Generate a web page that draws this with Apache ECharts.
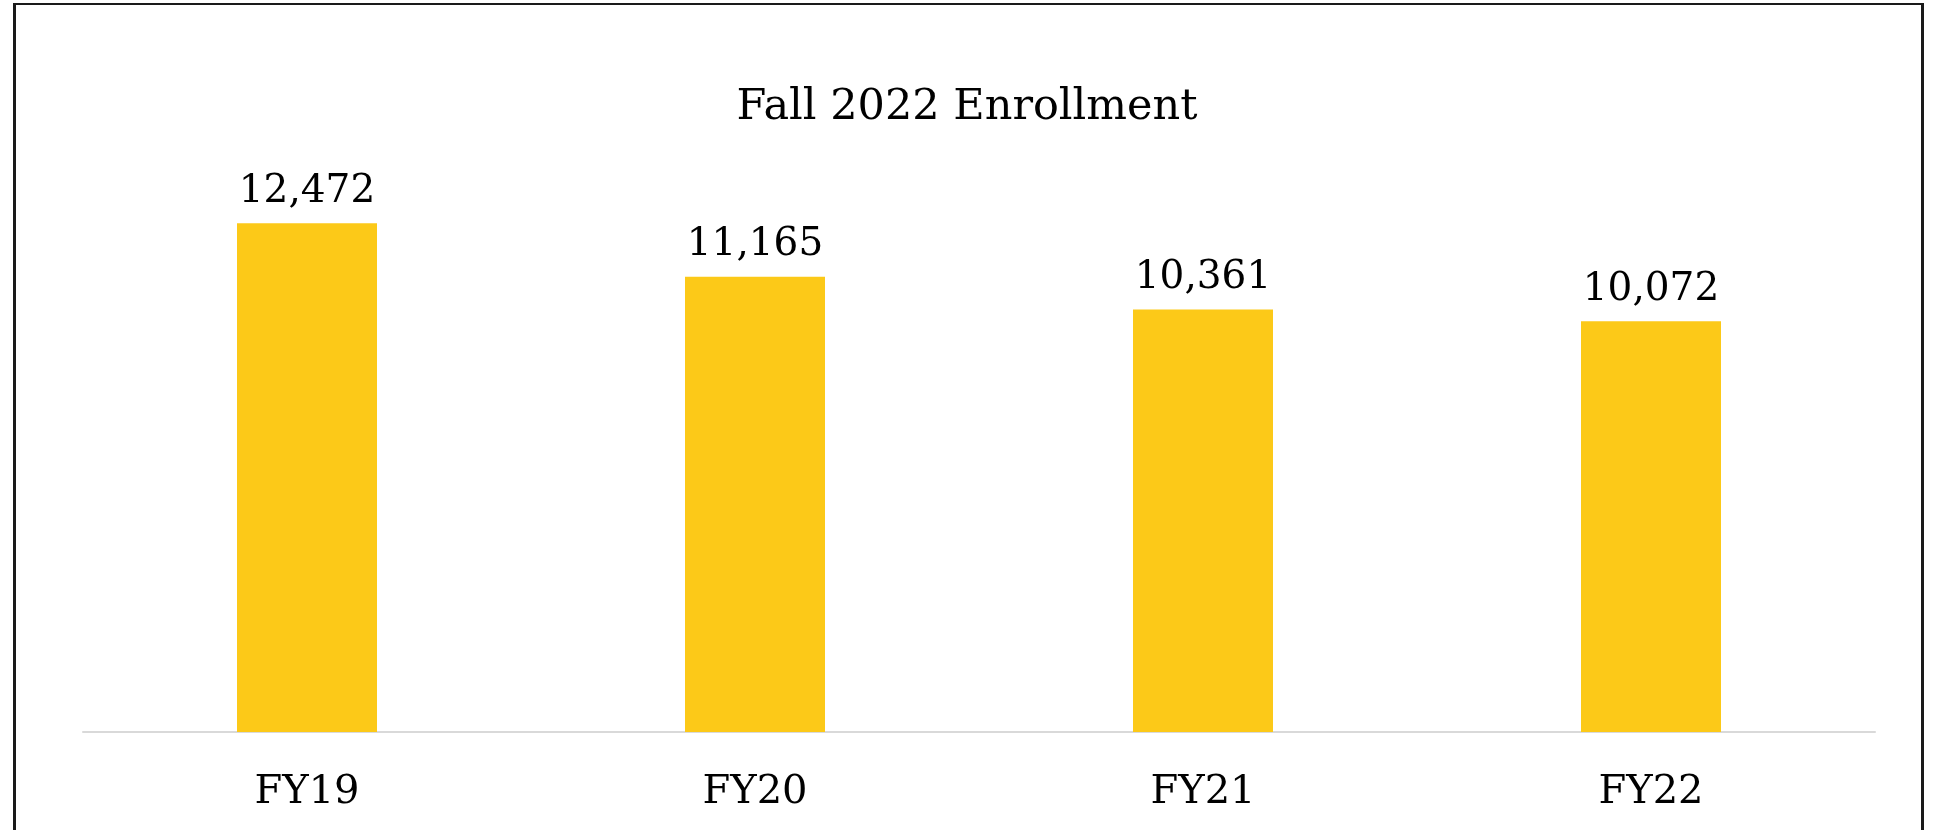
<!DOCTYPE html>
<html>
<head>
<meta charset="utf-8">
<title>Fall 2022 Enrollment</title>
<script src="https://cdn.jsdelivr.net/npm/echarts@6/dist/echarts.min.js"></script>
<style>
  html, body { margin: 0; padding: 0; background: #fff; overflow: hidden; }
  #frame {
    position: absolute;
    left: 13px;
    top: 3px;
    width: 1905px;
    height: 900px;
    border: 3px solid #1a1a1a;
    border-top-width: 2px;
  }
  #chart { position: absolute; left: 0; top: 0; width: 1937px; height: 830px; }
</style>
</head>
<body>
<div id="frame"></div>
<div id="chart"></div>
<script>
// chart data
var years = ['FY19', 'FY20', 'FY21', 'FY22']
var enrollment = [12472, 11165, 10361, 10072]

var serif = '"DejaVu Serif", "Liberation Serif", serif'

var chart = echarts.init(document.getElementById('chart'))
chart.setOption({
  animation: false,
  title: {
    text: 'Fall 2022 Enrollment',
    left: 962,
    top: 81,
    textAlign: 'center',
    textStyle: {
      fontFamily: serif,
      fontSize: 43,
      fontWeight: 'normal',
      color: '#000'
    }
  },
  grid: {
    left: 83,
    top: 161,
    width: 1792,
    height: 571
  },
  xAxis: {
    type: 'category',
    data: years,
    axisLine: { lineStyle: { color: '#d9d9d9', width: 2 } },
    axisTick: { show: false },
    axisLabel: {
      margin: 41,
      fontFamily: serif,
      fontSize: 40,
      color: '#000'
    }
  },
  yAxis: {
    type: 'value',
    min: 0,
    max: 14000,
    show: false,
    splitLine: { show: false }
  },
  series: [{
    name: 'Enrollment',
    type: 'bar',
    data: enrollment,
    barWidth: 140,
    itemStyle: { color: '#FCC918' },
    label: {
      show: true,
      position: 'top',
      distance: 12,
      fontFamily: serif,
      fontSize: 39,
      color: '#000',
      formatter: function (p) { return p.value.toLocaleString('en-US') }
    }
  }]
})
</script>
</body>
</html>
